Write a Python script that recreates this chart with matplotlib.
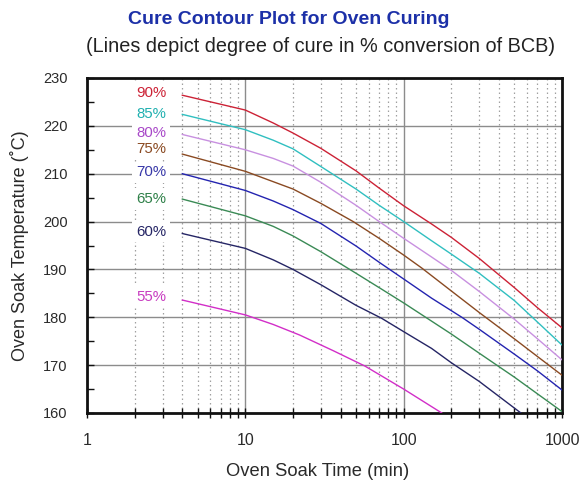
import matplotlib
matplotlib.use("Agg")
import matplotlib.pyplot as plt
from matplotlib.ticker import LogLocator, NullFormatter, FixedLocator, MultipleLocator

plt.rcParams['font.family'] = ['Liberation Sans', 'DejaVu Sans']

# ---- data ----
labels = ["90%", "85%", "80%", "75%", "70%", "65%", "60%", "55%"]
label_temps = [226.8, 222.5, 218.6, 215.1, 210.3, 204.7, 197.9, 184.3]
colors = ["#cc2236", "#30bfc0", "#c890e0", "#8a4a22", "#2424b0", "#3a8a55", "#252565", "#d22ec8"]
label_colors = ["#cc2236", "#20b0b0", "#a848c8", "#8a4a22", "#3838a8", "#2e8048", "#252565", "#c83cc0"]

t90 = [4, 10, 15, 20, 30, 50, 70, 100, 150, 200, 300, 500, 700, 1000]
T90 = [226.4, 223.3, 220.6, 218.5, 215.3, 210.6, 207.0, 203.3, 199.5, 196.7, 192.3, 186.2, 182.0, 177.8]

t85 = [4, 10, 15, 20, 30, 50, 70, 100, 150, 200, 300, 500, 700, 1000]
T85 = [222.4, 219.2, 217.0, 215.2, 211.5, 206.8, 203.4, 200.0, 196.0, 193.2, 189.2, 183.5, 179.0, 174.2]

t80 = [4, 10, 15, 20, 30, 50, 70, 100, 150, 200, 300, 500, 700, 1000]
T80 = [218.2, 215.0, 213.2, 211.6, 208.2, 203.4, 200.0, 196.5, 192.6, 189.8, 185.4, 179.6, 175.5, 171.1]

t75 = [4, 10, 20, 30, 48, 70, 100, 130, 200, 300, 500, 700, 1000]
T75 = [214.1, 210.5, 206.8, 203.8, 200.0, 196.5, 193.0, 190.3, 185.5, 181.0, 175.5, 171.8, 167.9]

t70 = [4, 10, 15, 20, 30, 50, 70, 100, 150, 233, 300, 500, 700, 1000]
T70 = [210.0, 206.5, 204.3, 202.5, 199.6, 194.9, 191.5, 188.0, 184.0, 180.0, 177.5, 172.3, 168.8, 164.8]

t65 = [4, 10, 15, 20, 30, 50, 70, 100, 150, 200, 300, 500, 700, 1000]
T65 = [204.7, 201.2, 199.0, 197.0, 193.7, 189.2, 186.2, 183.0, 179.2, 176.5, 172.5, 167.5, 164.0, 160.3]

t60 = [4, 10, 15, 20, 30, 50, 72.5, 100, 150, 200, 300, 550]
T60 = [197.5, 194.4, 192.0, 190.0, 186.8, 182.5, 179.8, 177.0, 173.5, 170.5, 166.6, 160.0]

t55 = [4, 10, 15, 22, 36, 57, 100, 174]
T55 = [183.6, 180.5, 178.5, 176.3, 173.0, 169.8, 165.0, 160.0]

series_t = [t90, t85, t80, t75, t70, t65, t60, t55]
series_T = [T90, T85, T80, T75, T70, T65, T60, T55]

x_ticks = [1, 10, 100, 1000]
x_ticklabels = ["1", "10", "100", "1000"]
y_ticks = [160, 170, 180, 190, 200, 210, 220, 230]

title = "Cure Contour Plot for Oven Curing"
subtitle = "(Lines depict degree of cure in % conversion of BCB)"
xlabel = "Oven Soak Time (min)"
ylabel = "Oven Soak Temperature (\u02daC)"

# ---- figure ----
fig = plt.figure(figsize=(5.79, 4.83), dpi=100)
ax = fig.add_axes([87/579, 1-413/483, (562-87)/579, (413-78)/483])

ax.set_xscale('log')
ax.set_xlim(1, 1000)
ax.set_ylim(160, 230)

ax.xaxis.set_major_locator(FixedLocator(x_ticks))
ax.xaxis.set_minor_locator(LogLocator(base=10, subs=range(2, 10)))
ax.xaxis.set_minor_formatter(NullFormatter())
ax.set_xticks(x_ticks)
ax.set_xticklabels(x_ticklabels)
ax.set_yticks(y_ticks)
ax.yaxis.set_minor_locator(MultipleLocator(5))

ax.grid(which='major', color='#8c8c8c', linewidth=1.0, linestyle='-', zorder=0)
ax.grid(which='minor', axis='x', color='#a0a0a0', linewidth=0.9, linestyle=(0, (1.2, 2.4)), zorder=0)

for t, T, c in zip(series_t, series_T, colors):
    ax.plot(t, T, color=c, linewidth=1.0, zorder=3, solid_joinstyle='round')

for lab, ty, c in zip(labels, label_temps, label_colors):
    ax.text(2.54, ty, lab, color=c, fontsize=10.8, ha='center', va='center', zorder=4,
            bbox=dict(boxstyle='square,pad=0.25', facecolor='white', edgecolor='none'))

for s in ax.spines.values():
    s.set_linewidth(2.0)
    s.set_color('#111111')

ax.tick_params(axis='x', which='both', direction='inout', length=7, width=1, pad=11, labelsize=11.5, colors='#111111', labelcolor='#2a2a2a')
ax.tick_params(axis='y', which='both', direction='in', length=5, width=1, pad=14, labelsize=10.5, colors='#111111', labelcolor='#2a2a2a')

fig.text(289/579, 1-20/483, title, ha='center', va='center', fontsize=14.0, fontweight='bold', color='#1c30a8')
fig.text(321/579, 1-46/483, subtitle, ha='center', va='center', fontsize=14.3, color='#222222')
fig.text(318/579, 1-471/483, xlabel, ha='center', va='center', fontsize=13.2, color='#2a2a2a')
fig.text(20/579, 1-246/483, ylabel, ha='center', va='center', rotation=90, fontsize=13.0, color='#2a2a2a')

fig.savefig("out.png", dpi=100)
